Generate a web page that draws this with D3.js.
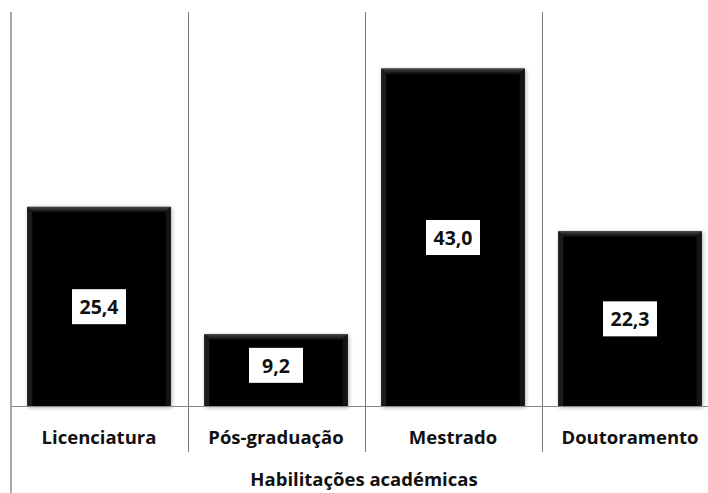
<!DOCTYPE html>
<html><head><meta charset="utf-8">
<script src="https://cdn.jsdelivr.net/npm/d3@7"></script>
<style>body{margin:0;background:#fff}svg{display:block}</style>
</head><body>
<script>
const categories = ["Licenciatura", "Pós-graduação", "Mestrado", "Doutoramento"];
const values = [25.4, 9.2, 43.0, 22.3];
const valueLabels = ["25,4", "9,2", "43,0", "22,3"];
const axisTitle = "Habilitações académicas";

const W = 708, H = 493;
const svg = d3.select("body").append("svg").attr("width", W).attr("height", H);
const font = "'Open Sans', Lato, sans-serif";

const defs = svg.append("defs");
const f = defs.append("filter").attr("id", "sh").attr("x", "-10%").attr("y", "-10%").attr("width", "120%").attr("height", "120%");
f.append("feGaussianBlur").attr("in", "SourceAlpha").attr("stdDeviation", 2).attr("result", "b");
f.append("feOffset").attr("in", "b").attr("dx", 1).attr("dy", 1).attr("result", "o");
f.append("feComponentTransfer").attr("in", "o").attr("result", "o2").append("feFuncA").attr("type", "linear").attr("slope", 0.35);
const m = f.append("feMerge"); m.append("feMergeNode").attr("in", "o2"); m.append("feMergeNode").attr("in", "SourceGraphic");

const topGrad = defs.append("linearGradient").attr("id", "tg").attr("x1", 0).attr("y1", 0).attr("x2", 0).attr("y2", 1);
topGrad.append("stop").attr("offset", "0%").attr("stop-color", "#5a5a5a");
topGrad.append("stop").attr("offset", "100%").attr("stop-color", "#050505");

const x = d3.scaleBand().domain(categories).range([10.5, 718.5]).paddingInner(0.19).paddingOuter(0.095);
const y = d3.scaleLinear().domain([0, 50]).range([406.5, 13.5]);
const step = x.step();
const x0 = 10.5;

svg.append("line").attr("x1", 11).attr("x2", 11).attr("y1", 12).attr("y2", H).attr("stroke", "#a8a8a8").attr("stroke-width", 2);
categories.slice(1).forEach((c, i) => {
  const xx = Math.round(x0 + step * (i + 1)) + 0.5;
  svg.append("line").attr("x1", xx).attr("x2", xx).attr("y1", 12).attr("y2", 452).attr("stroke", "#777").attr("stroke-width", 1);
});

const g = svg.append("g");
categories.forEach((c, i) => {
  const bx = x(c), bw = x.bandwidth(), by = y(values[i]), bh = y(0) - y(values[i]);
  const bg = g.append("g");
  bg.append("rect").attr("x", bx).attr("y", by).attr("width", bw).attr("height", bh).attr("fill", "#050505").attr("filter", "url(#sh)");
  bg.append("path").attr("d", `M${bx},${by} L${bx + bw},${by} L${bx + bw - 6},${by + 6} L${bx + 6},${by + 6} Z`).attr("fill", "url(#tg)").attr("opacity", 0.8);
  bg.append("path").attr("d", `M${bx},${by} L${bx + 5},${by + 5} L${bx + 5},${by + bh} L${bx},${by + bh} Z`).attr("fill", "#1c1c1c");
  bg.append("path").attr("d", `M${bx + bw},${by} L${bx + bw - 5},${by + 5} L${bx + bw - 5},${by + bh} L${bx + bw},${by + bh} Z`).attr("fill", "#141414");
});

svg.append("line").attr("x1", 11).attr("x2", W).attr("y1", 406.5).attr("y2", 406.5).attr("stroke", "#888").attr("stroke-width", 1);

categories.forEach((c, i) => {
  const cx = x(c) + x.bandwidth() / 2;
  const cy = (y(values[i]) + y(0)) / 2 - (values[i] < 12 ? 5 : 0);
  const t = svg.append("text").attr("x", cx).attr("y", cy).attr("text-anchor", "middle").attr("dominant-baseline", "central")
    .attr("font-family", font).attr("font-weight", "bold").attr("font-size", 19.5).attr("fill", "#111").text(valueLabels[i]);
  svg.insert("rect", () => t.node()).attr("x", cx - 27).attr("y", cy - 17.5).attr("width", 54).attr("height", 35).attr("fill", "#fff");
});

categories.forEach(c => {
  svg.append("text").attr("x", x(c) + x.bandwidth() / 2).attr("y", 444).attr("text-anchor", "middle")
    .attr("font-family", font).attr("font-weight", "bold").attr("font-size", 18.5).attr("fill", "#111").text(c);
});

svg.append("text").attr("x", 364).attr("y", 486).attr("text-anchor", "middle")
  .attr("font-family", font).attr("font-weight", "bold").attr("font-size", 18.5).attr("fill", "#111").text(axisTitle);
</script>
</body></html>
